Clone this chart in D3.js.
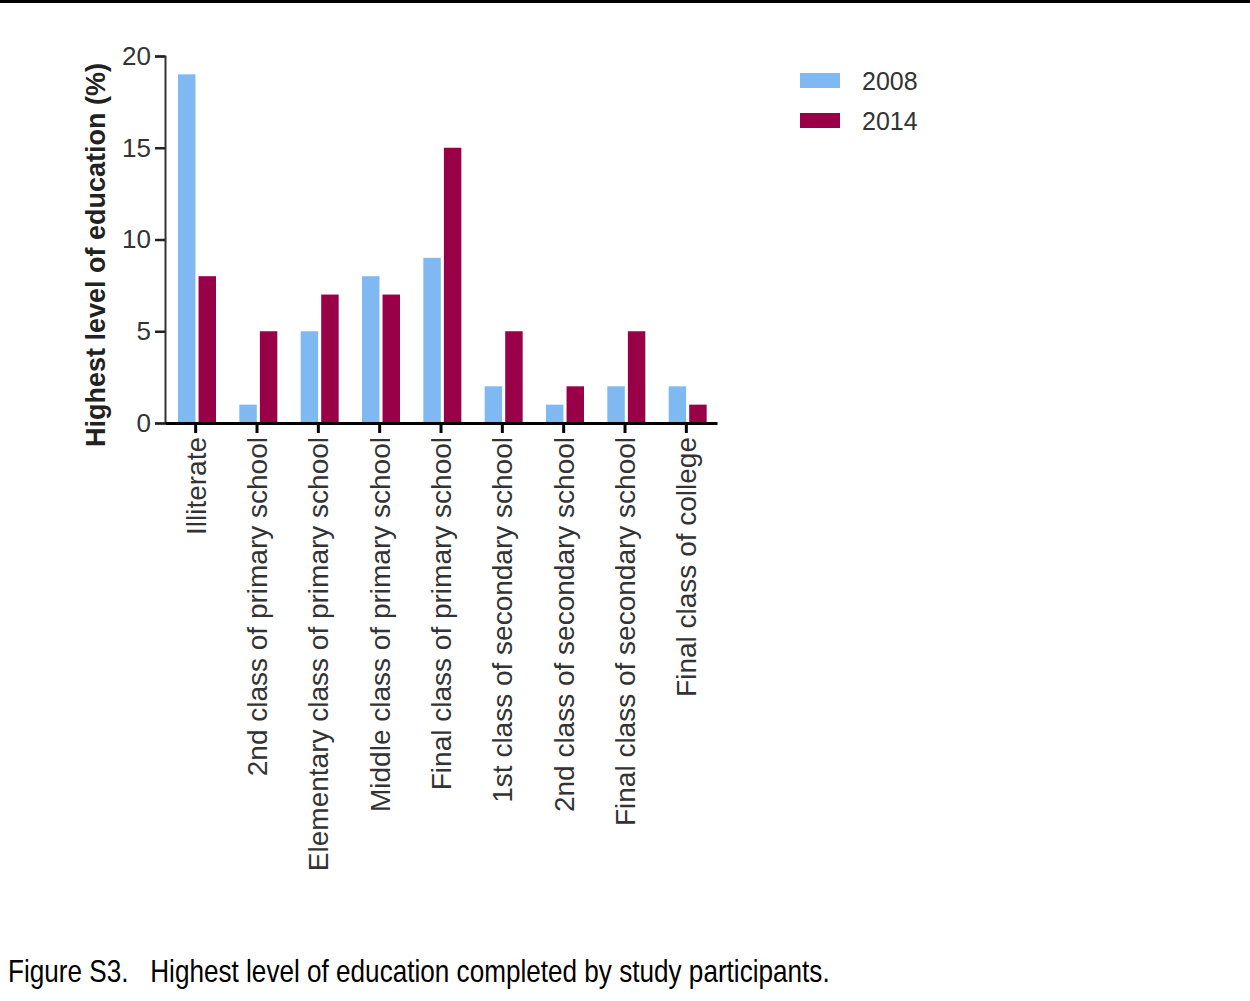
<!DOCTYPE html>
<html>
<head>
<meta charset="utf-8">
<script src="https://cdn.jsdelivr.net/npm/d3@7"></script>
<style>
  body { margin: 0; background: #fff; }
</style>
</head>
<body>
<div id="chart"></div>
<script>
// Highest level of education, 2008 vs 2014
const categories = [
  "Illiterate",
  "2nd class of primary school",
  "Elementary class of primary school",
  "Middle class of primary school",
  "Final class of primary school",
  "1st class of secondary school",
  "2nd class of secondary school",
  "Final class of secondary school",
  "Final class of college"
];
const years = ["2008", "2014"];
const values2008 = [19, 1, 5, 8, 9, 2, 1, 2, 2];
const values2014 = [8, 5, 7, 7, 15, 5, 2, 5, 1];
const yTicks = [0, 5, 10, 15, 20];
const colors = {"2008": "#80b9f2", "2014": "#990047"};

const data = categories.map((c, i) => ({cat: c, "2008": values2008[i], "2014": values2014[i]}));

const W = 1250, H = 1001;
const svg = d3.select("#chart").append("svg").attr("width", W).attr("height", H);
const font = "'Liberation Sans', Arial, sans-serif";

// top rule
svg.append("rect").attr("x", 0).attr("y", 0).attr("width", W).attr("height", 3).attr("fill", "#000");

const x = d3.scaleBand().domain(categories).range([165, 717]).padding(0);
const xs = d3.scaleBand().domain(years).range([13, 51]).paddingInner(0.15);
const y = d3.scaleLinear().domain([0, 20]).range([423, 56]);

// bars
const g = svg.append("g");
g.selectAll("g.cat").data(data).join("g").attr("class", "cat")
  .attr("transform", d => `translate(${x(d.cat)},0)`)
  .selectAll("rect").data(d => years.map(k => ({k, v: d[k]}))).join("rect")
  .attr("x", d => xs(d.k)).attr("width", xs.bandwidth())
  .attr("y", d => y(d.v)).attr("height", d => y(0) - y(d.v))
  .attr("fill", d => colors[d.k]);

// y axis
const ya = svg.append("g").attr("transform", "translate(165,0)")
  .call(d3.axisLeft(y).tickValues(yTicks).tickSize(10).tickPadding(4));
ya.select(".domain").attr("stroke", "#333").attr("stroke-width", 2);
ya.selectAll(".tick line").attr("stroke", "#222").attr("stroke-width", 2.5);
ya.selectAll(".tick text").attr("font-family", font).attr("font-size", 26).attr("fill", "#333");

// x axis
const xa = svg.append("g").attr("transform", "translate(0,423)")
  .call(d3.axisBottom(x).tickSize(10).tickSizeOuter(0).tickPadding(4));
xa.select(".domain").attr("stroke", "#000").attr("stroke-width", 3);
xa.selectAll(".tick line").attr("stroke", "#000").attr("stroke-width", 3);
xa.selectAll(".tick text")
  .attr("font-family", font).attr("font-size", 28).attr("fill", "#333")
  .attr("text-anchor", "end").attr("transform", "rotate(-90)")
  .attr("x", -14).attr("y", 0).attr("dy", "0.36em");

// y title
svg.append("text").attr("transform", "translate(105,255) rotate(-90)")
  .attr("text-anchor", "middle").attr("font-family", font).attr("font-size", 27)
  .attr("font-weight", "bold").attr("fill", "#222")
  .text("Highest level of education (%)");

// legend
const lg = svg.append("g").selectAll("g").data(years).join("g")
  .attr("transform", (d, i) => `translate(800,${73 + i * 40})`);
lg.append("rect").attr("width", 40).attr("height", 15).attr("fill", d => colors[d]);
lg.append("text").attr("x", 62).attr("y", 8).attr("dy", "0.36em")
  .attr("font-family", font).attr("font-size", 25).attr("fill", "#333").text(d => d);

// caption (narrow face: squeeze regular sans to the original width)
const cap = svg.append("text").attr("x", 0).attr("y", 0)
  .attr("font-family", "'Liberation Sans Narrow', 'Arial Narrow', 'Liberation Sans', sans-serif")
  .attr("font-size", 31).attr("fill", "#000")
  .style("white-space", "pre")
  .text("Figure S3.   Highest level of education completed by study participants.");
const capLen = cap.node().getComputedTextLength();
cap.attr("transform", `translate(8,982) scale(${822 / capLen},1)`);
</script>
</body>
</html>
